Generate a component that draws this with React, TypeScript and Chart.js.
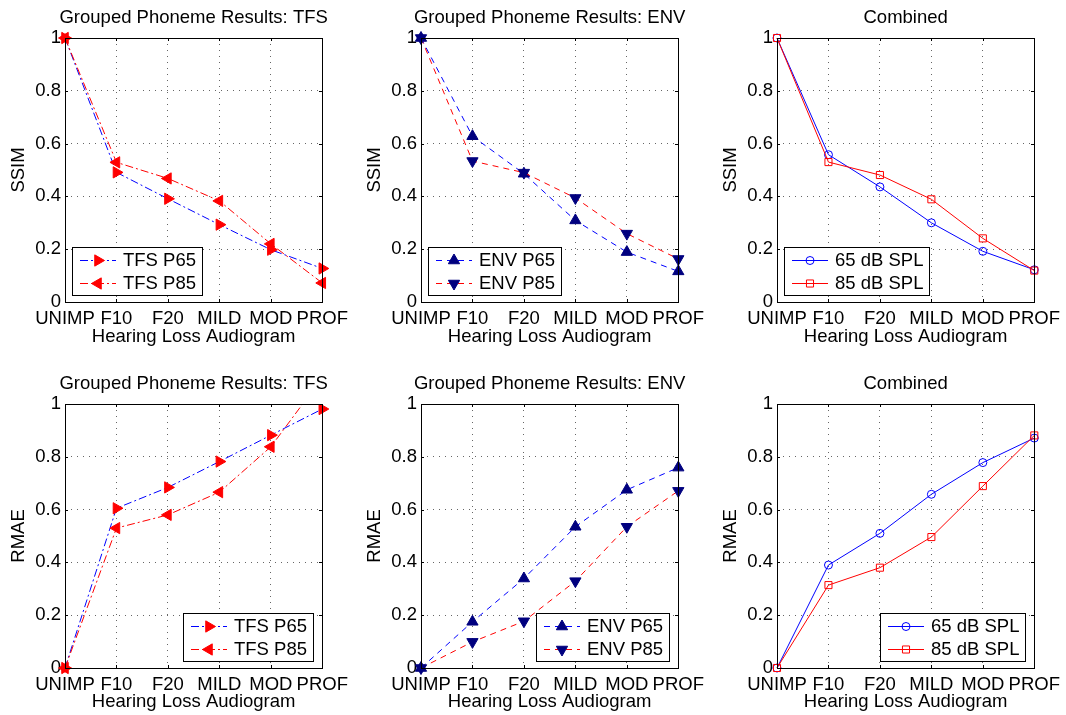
import React, { useEffect, useRef } from 'react';
import { Chart, registerables } from 'chart.js';

Chart.register(...registerables);

// ---------- data ----------
const audiograms = ['UNIMP', 'F10', 'F20', 'MILD', 'MOD', 'PROF'];
const yTickLabels = ['0', '0.2', '0.4', '0.6', '0.8', '1'];

const tfsSsimP65 = [1.0, 0.491, 0.391, 0.293, 0.198, 0.127];
const tfsSsimP85 = [1.0, 0.529, 0.468, 0.383, 0.22, 0.072];
const envSsimP65 = [1.0, 0.628, 0.486, 0.309, 0.189, 0.116];
const envSsimP85 = [1.0, 0.534, 0.49, 0.394, 0.259, 0.163];
const combSsim65 = [1.0, 0.558, 0.436, 0.3, 0.192, 0.122];
const combSsim85 = [1.0, 0.53, 0.481, 0.389, 0.241, 0.119];

const tfsRmaeP65 = [0, 0.605, 0.684, 0.782, 0.882, 0.981];
const tfsRmaeP85 = [0, 0.53, 0.58, 0.666, 0.838, 1.1];
const envRmaeP65 = [0, 0.175, 0.339, 0.535, 0.675, 0.759];
const envRmaeP85 = [0, 0.099, 0.177, 0.329, 0.535, 0.671];
const combRmae65 = [0, 0.39, 0.51, 0.658, 0.778, 0.871];
const combRmae85 = [0, 0.314, 0.38, 0.496, 0.689, 0.881];

// ---------- styling ----------
const FONT = "'Liberation Sans', Arial, Helvetica, sans-serif";
const FS = 18.5;
const BLUE = '#0000ff';
const RED = '#ff0000';
const NAVY = '#00007f';
const DASHDOT = [8, 3, 2, 3];
const DASHED = [6, 5];
const TICK_LEN = 3;

type Series = {
  label: string;
  data: number[];
  color: string;
  dash: number[];
  marker: 'triangle' | 'circle' | 'rect';
  rotation: number;
  fill: string;
  stroke: string;
  radius: number;
};

type PanelDef = {
  title: string;
  yLabel: string;
  series: Series[];
  legendPos: 'sw' | 'se';
  left: number;
  top: number;
  padTop: number;
};

const tfs = (label: string, data: number[], color: string, rot: number): Series => ({
  label, data, color, dash: DASHDOT, marker: 'triangle', rotation: rot, fill: RED, stroke: RED, radius: 6.5,
});
const env = (label: string, data: number[], color: string, rot: number): Series => ({
  label, data, color, dash: DASHED, marker: 'triangle', rotation: rot, fill: NAVY, stroke: NAVY, radius: 6.5,
});
const comb65 = (data: number[]): Series => ({
  label: '65 dB SPL', data, color: BLUE, dash: [], marker: 'circle', rotation: 0, fill: 'transparent', stroke: BLUE, radius: 4,
});
const comb85 = (data: number[]): Series => ({
  label: '85 dB SPL', data, color: RED, dash: [], marker: 'rect', rotation: 0, fill: 'transparent', stroke: RED, radius: 5,
});

const COLS = [0, 356, 712];
const ROWS = [0, 365];
const PADS = [38, 39];

const panels: PanelDef[] = [
  { title: 'Grouped Phoneme Results: TFS', yLabel: 'SSIM', legendPos: 'sw', left: COLS[0], top: ROWS[0], padTop: PADS[0],
    series: [tfs('TFS P65', tfsSsimP65, BLUE, 90), tfs('TFS P85', tfsSsimP85, RED, 270)] },
  { title: 'Grouped Phoneme Results: ENV', yLabel: 'SSIM', legendPos: 'sw', left: COLS[1], top: ROWS[0], padTop: PADS[0],
    series: [env('ENV P65', envSsimP65, BLUE, 0), env('ENV P85', envSsimP85, RED, 180)] },
  { title: 'Combined', yLabel: 'SSIM', legendPos: 'sw', left: COLS[2], top: ROWS[0], padTop: PADS[0],
    series: [comb65(combSsim65), comb85(combSsim85)] },
  { title: 'Grouped Phoneme Results: TFS', yLabel: 'RMAE', legendPos: 'se', left: COLS[0], top: ROWS[1], padTop: PADS[1],
    series: [tfs('TFS P65', tfsRmaeP65, BLUE, 90), tfs('TFS P85', tfsRmaeP85, RED, 270)] },
  { title: 'Grouped Phoneme Results: ENV', yLabel: 'RMAE', legendPos: 'se', left: COLS[1], top: ROWS[1], padTop: PADS[1],
    series: [env('ENV P65', envRmaeP65, BLUE, 0), env('ENV P85', envRmaeP85, RED, 180)] },
  { title: 'Combined', yLabel: 'RMAE', legendPos: 'se', left: COLS[2], top: ROWS[1], padTop: PADS[1],
    series: [comb65(combRmae65), comb85(combRmae85)] },
];

function drawMarker(ctx: CanvasRenderingContext2D, s: Series, x: number, y: number) {
  ctx.save();
  ctx.setLineDash([]);
  ctx.lineWidth = 1;
  ctx.fillStyle = s.fill;
  ctx.strokeStyle = s.stroke;
  ctx.beginPath();
  const r = s.radius;
  if (s.marker === 'triangle') {
    let rad = (s.rotation * Math.PI) / 180;
    for (let k = 0; k < 3; k++) {
      const px = x + Math.sin(rad) * r;
      const py = y - Math.cos(rad) * r;
      if (k === 0) ctx.moveTo(px, py);
      else ctx.lineTo(px, py);
      rad += (2 * Math.PI) / 3;
    }
    ctx.closePath();
  } else if (s.marker === 'circle') {
    ctx.arc(x, y, r, 0, Math.PI * 2);
  } else {
    const sz = r * Math.SQRT1_2;
    ctx.rect(x - sz, y - sz, 2 * sz, 2 * sz);
  }
  if (s.fill !== 'transparent') ctx.fill();
  ctx.stroke();
  ctx.restore();
}

const matlabPlugin = {
  id: 'matlabAxes',
  afterDraw(chart: any, _args: any, opts: any) {
    const { ctx, chartArea: a, scales } = chart;
    const xs = scales.x;
    const ys = scales.y;
    const L = Math.round(a.left), R = Math.round(a.right), T = Math.round(a.top), B = Math.round(a.bottom);
    ctx.save();
    ctx.setLineDash([]);
    ctx.strokeStyle = '#000';
    ctx.lineWidth = 1;
    ctx.beginPath();
    xs.ticks.forEach((_t: any, i: number) => {
      const px = Math.round(xs.getPixelForTick(i)) + 0.5;
      ctx.moveTo(px, B);
      ctx.lineTo(px, B - TICK_LEN);
      ctx.moveTo(px, T);
      ctx.lineTo(px, T + TICK_LEN);
    });
    ys.ticks.forEach((t: any) => {
      const py = Math.round(ys.getPixelForValue(t.value)) + 0.5;
      ctx.moveTo(L, py);
      ctx.lineTo(L + TICK_LEN, py);
      ctx.moveTo(R, py);
      ctx.lineTo(R - TICK_LEN, py);
    });
    ctx.stroke();
    ctx.strokeRect(L + 0.5, T + 0.5, R - L, B - T);

    // title
    ctx.fillStyle = '#000';
    ctx.font = `${FS}px ${FONT}`;
    ctx.textAlign = 'center';
    ctx.textBaseline = 'middle';
    ctx.fillText(opts.title, (a.left + a.right) / 2, T - 20);

    // legend
    const series: Series[] = opts.series;
    const tw = Math.max(...series.map((s) => ctx.measureText(s.label).width));
    const bw = Math.round(51 + tw + 6);
    const bh = 48;
    const bx = opts.legendPos === 'sw' ? L + 7 : R - 9 - bw;
    const by = B - 7 - bh;
    ctx.fillStyle = '#fff';
    ctx.fillRect(bx, by, bw, bh);
    ctx.strokeStyle = '#000';
    ctx.strokeRect(bx + 0.5, by + 0.5, bw, bh);
    series.forEach((s, i) => {
      const ry = by + 13 + i * 23;
      ctx.save();
      ctx.strokeStyle = s.color;
      ctx.setLineDash(s.dash);
      ctx.lineWidth = 1;
      ctx.beginPath();
      ctx.moveTo(bx + 8, ry + 0.5);
      ctx.lineTo(bx + 44, ry + 0.5);
      ctx.stroke();
      ctx.restore();
      drawMarker(ctx, s, bx + 26, ry + 0.5);
      ctx.fillStyle = '#000';
      ctx.textAlign = 'left';
      ctx.textBaseline = 'middle';
      ctx.fillText(s.label, bx + 51, ry + 1);
    });
    ctx.restore();
  },
};

const W = 354;
const H = 350;

function Panel({ def }: { def: PanelDef }) {
  const ref = useRef<HTMLCanvasElement | null>(null);
  useEffect(() => {
    if (!ref.current) return;
    const font = { family: FONT, size: FS };
    const overflow = def.series.some((s) => s.data.some((v) => v > 1));
    const clip = { left: 12, right: 12, bottom: 12, top: overflow ? 0 : 12 };
    const gridOpts = { color: '#666', lineWidth: 1, drawTicks: false, offset: false };
    const chart = new Chart(ref.current, {
      type: 'line',
      data: {
        labels: audiograms,
        datasets: def.series.map((s, i) => ({
          label: s.label,
          data: s.data,
          borderColor: s.color,
          borderWidth: 1,
          borderDash: s.dash,
          fill: false,
          tension: 0,
          pointStyle: s.marker,
          pointRotation: s.rotation,
          pointRadius: s.radius,
          pointBackgroundColor: s.fill,
          pointBorderColor: s.stroke,
          pointBorderWidth: 1,
          clip,
          order: def.series.length - 1 - i,
        })),
      },
      options: {
        responsive: false,
        animation: false,
        events: [],
        layout: { padding: { top: def.padTop, right: W - 65 - 259, left: 0, bottom: 0 } },
        plugins: {
          legend: { display: false },
          tooltip: { enabled: false },
          title: { display: false },
          matlabAxes: { title: def.title, series: def.series, legendPos: def.legendPos },
        } as any,
        scales: {
          x: {
            type: 'category',
            offset: false,
            grid: gridOpts,
            border: { display: false, dash: [1, 5] },
            ticks: { color: '#000', font, padding: 6, maxRotation: 0, minRotation: 0, autoSkip: false },
            title: { display: true, text: 'Hearing Loss Audiogram', color: '#000', font, padding: { top: 0, bottom: 2 } },
            afterFit: (s: any) => {
              s.height = H - def.padTop - 264;
            },
          },
          y: {
            type: 'linear',
            min: 0,
            max: 1,
            grid: gridOpts,
            border: { display: false, dash: [1, 5] },
            ticks: { stepSize: 0.2, color: '#000', font, padding: 4, callback: (_v: any, i: number) => yTickLabels[i] },
            title: { display: true, text: def.yLabel, color: '#000', font, padding: { top: 8, bottom: 0 } },
            afterFit: (s: any) => {
              s.width = 65;
            },
          },
        },
      } as any,
      plugins: [matlabPlugin as any],
    });
    return () => chart.destroy();
  }, [def]);
  return (
    <canvas
      ref={ref}
      width={W}
      height={H}
      style={{ position: 'absolute', left: def.left, top: def.top, width: W, height: H }}
    />
  );
}

export default function App() {
  return (
    <div style={{ position: 'fixed', left: 0, top: 0, width: 1066, height: 715, background: '#fff', overflow: 'hidden' }}>
      {panels.map((p, i) => (
        <Panel key={i} def={p} />
      ))}
    </div>
  );
}
